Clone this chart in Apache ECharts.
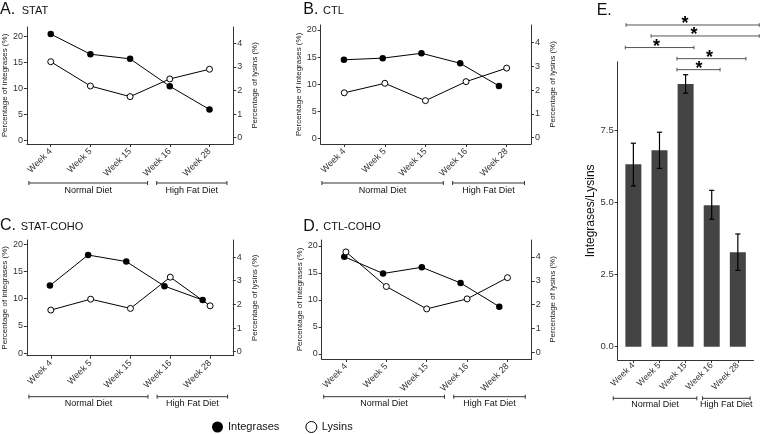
<!DOCTYPE html>
<html><head><meta charset="utf-8">
<script src="https://cdn.jsdelivr.net/npm/echarts@6/dist/echarts.min.js"></script>
<style>html,body{margin:0;padding:0;background:#fff}#c{width:760px;height:434px}</style>
</head><body><div id="c"></div>
<script>
// ---------- data ----------
const weeks = ['Week 4', 'Week 5', 'Week 15', 'Week 16', 'Week 28'];
const statIntegrases = [20.5, 16.6, 15.7, 10.4, 5.9];
const statLysins = [3.22, 2.19, 1.74, 2.49, 2.90];
const ctlIntegrases = [14.5, 14.8, 15.7, 13.85, 9.66];
const ctlLysins = [1.89, 2.29, 1.56, 2.36, 2.93];
const statCohoIntegrases = [12.4, 18.0, 16.8, 12.3, 9.76];
const statCohoLysins = [1.76, 2.22, 1.83, 3.15, 1.94];
const ctlCohoIntegrases = [18.0, 14.9, 16.05, 13.15, 8.76];
const ctlCohoLysins = [4.21, 2.76, 1.82, 2.24, 3.13];
const ratioMean = [6.31, 6.80, 9.09, 4.89, 3.27];
const ratioLow = [5.56, 6.17, 8.77, 4.41, 2.64];
const ratioHigh = [7.04, 7.42, 9.41, 5.41, 3.90];
const integraseTicks = [0, 5, 10, 15, 20];
const lysinTicks = [0, 1, 2, 3, 4];
const ratioTicks = [0, 2.5, 5, 7.5];
const dietGroups = ['Normal Diet', 'High Fat Diet'];
// significance comparisons: [from x, to x, level, star x] (in axis units)
const sigComparisons = [
  [0.72, 5.82, 11.13, 2.98],
  [1.68, 5.82, 10.75, 3.32],
  [0.69, 3.32, 10.35, 1.89],
  [2.67, 5.31, 9.965, 3.92],
  [2.67, 4.32, 9.585, 3.51]
];

// ---------- layout ----------
const FONT = '"Liberation Sans", Arial, sans-serif';
const AX = '#333';
const weekPos = weeks.map((w, i) => i + 1);
const lineSpans = [[0.45, 3.44], [3.67, 5.44]];
const barSpans = [[0.23, 3.43], [3.65, 5.47]];
const linePanels = [
  {letter: 'A.', name: 'STAT', integ: statIntegrases, lys: statLysins,
   grid: [23.3, 27, 210, 117], yL: [-0.77, 21.86], yR: [-0.267, 4.69], xO: [0.4, 5.6], xF: [0.4, 5.6],
   tx: 0, sx: 21.7, base: 14, bracketY: 183},
  {letter: 'B.', name: 'CTL', integ: ctlIntegrases, lys: ctlLysins,
   grid: [320.7, 25, 210.3, 119], yL: [-1.05, 20.92], yR: [-0.265, 4.745], xO: [0.42, 5.6], xF: [0.4, 5.827],
   tx: 303.3, sx: 323, base: 14, bracketY: 183},
  {letter: 'C.', name: 'STAT-COHO', integ: statCohoIntegrases, lys: statCohoLysins,
   grid: [23.3, 240, 209.5, 115.7], yL: [-0.44, 20.75], yR: [-0.168, 4.72], xO: [0.4, 5.57], xF: [0.397, 5.79],
   tx: 0, sx: 20.7, base: 230, bracketY: 396.7},
  {letter: 'D.', name: 'CTL-COHO', integ: ctlCohoIntegrases, lys: ctlCohoLysins,
   grid: [321.7, 240, 210, 119], yL: [-0.93, 21.1], yR: [-0.28, 4.71], xO: [0.4, 5.6], xF: [0.417, 5.836],
   tx: 303.3, sx: 323.3, base: 230.5, bracketY: 396.7}
];

const grids = [], xAxes = [], yAxes = [], series = [], graphics = [];

function addTitle(letter, name, tx, sx, base) {
  graphics.push({type: 'text', left: tx, top: base - 12.4, style: {text: letter, fontSize: 16, fontFamily: FONT, fill: '#111'}});
  if (name) graphics.push({type: 'text', left: sx, top: base - 9, style: {text: name, fontSize: 11, fontFamily: FONT, fill: '#111'}});
}

function bracketSeries(xi, yi, spans, lineY, textDy) {
  return {
    type: 'custom', xAxisIndex: xi, yAxisIndex: yi, clip: false, silent: true, z: 5,
    data: dietGroups.map((g, i) => [spans[i][0], spans[i][1], i]),
    encode: {x: [0, 1]},
    renderItem: (params, api) => {
      const x1 = api.coord([api.value(0), 0])[0];
      const x2 = api.coord([api.value(1), 0])[0];
      const st = {stroke: '#333', lineWidth: 1};
      return {type: 'group', children: [
        {type: 'line', shape: {x1: x1, y1: lineY, x2: x2, y2: lineY}, style: st},
        {type: 'line', shape: {x1: x1, y1: lineY - 2, x2: x1, y2: lineY + 2}, style: st},
        {type: 'line', shape: {x1: x2, y1: lineY - 2, x2: x2, y2: lineY + 2}, style: st},
        {type: 'text', style: {text: dietGroups[api.value(2)], x: (x1 + x2) / 2, y: lineY + textDy,
          textAlign: 'center', textVerticalAlign: 'middle', fontSize: 9, fontFamily: FONT, fill: '#111'}}
      ]};
    }
  };
}

linePanels.forEach((p, k) => {
  grids.push({left: p.grid[0], top: p.grid[1], width: p.grid[2], height: p.grid[3], containLabel: false});
  const xo = xAxes.length;
  xAxes.push({type: 'value', gridIndex: k, min: p.xO[0], max: p.xO[1],
    axisLine: {show: true, onZero: false, lineStyle: {color: AX, width: 1}},
    axisTick: {show: true, length: 3, customValues: weekPos, lineStyle: {color: AX}},
    axisLabel: {customValues: weekPos, rotate: 45, fontSize: 9, margin: 6, color: '#333', fontFamily: FONT,
      formatter: v => weeks[Math.round(v) - 1]},
    splitLine: {show: false}});
  xAxes.push({type: 'value', gridIndex: k, min: p.xF[0], max: p.xF[1], show: false});
  const yl = yAxes.length;
  yAxes.push({type: 'value', gridIndex: k, position: 'left', min: p.yL[0], max: p.yL[1],
    name: 'Percentage of integrases (%)', nameLocation: 'middle', nameGap: 14, nameRotate: 90,
    nameTextStyle: {fontSize: 8, color: '#222', fontFamily: FONT},
    axisLine: {show: true, onZero: false, lineStyle: {color: AX, width: 1}},
    axisTick: {show: true, length: 3, customValues: integraseTicks, lineStyle: {color: AX}},
    axisLabel: {customValues: integraseTicks, fontSize: 9, margin: 4, color: '#333', fontFamily: FONT},
    splitLine: {show: false}});
  yAxes.push({type: 'value', gridIndex: k, position: 'right', min: p.yR[0], max: p.yR[1],
    name: 'Percentage of lysins (%)', nameLocation: 'middle', nameGap: 17.5, nameRotate: 90,
    nameTextStyle: {fontSize: 8, color: '#222', fontFamily: FONT},
    axisLine: {show: true, onZero: false, lineStyle: {color: AX, width: 1}},
    axisTick: {show: true, length: 3, customValues: lysinTicks, lineStyle: {color: AX}},
    axisLabel: {customValues: lysinTicks, fontSize: 9, margin: 4, color: '#333', fontFamily: FONT},
    splitLine: {show: false}});
  series.push({type: 'line', name: 'Integrases', xAxisIndex: xo + 1, yAxisIndex: yl,
    data: p.integ.map((v, i) => [i + 1, v]), symbol: 'circle', symbolSize: 6.5, showAllSymbol: true,
    lineStyle: {color: '#000', width: 1}, itemStyle: {color: '#000'}, z: 3});
  series.push({type: 'line', name: 'Lysins', xAxisIndex: xo, yAxisIndex: yl + 1,
    data: p.lys.map((v, i) => [i + 1, v]), symbol: 'circle', symbolSize: 6, showAllSymbol: true,
    lineStyle: {color: '#000', width: 1}, itemStyle: {color: '#fff', borderColor: '#000', borderWidth: 1}, z: 4});
  series.push(bracketSeries(xo, yl, lineSpans, p.bracketY, 7.3));
  addTitle(p.letter, p.name, p.tx, p.sx, p.base);
});

// ---------- panel E ----------
const kE = grids.length;
grids.push({left: 617.7, top: 61.7, width: 135.8, height: 298.3, containLabel: false});
const xE = xAxes.length;
xAxes.push({type: 'value', gridIndex: kE, min: 0.4, max: 5.6,
  axisLine: {show: true, onZero: false, lineStyle: {color: AX, width: 1}},
  axisTick: {show: true, length: 3, customValues: weekPos, lineStyle: {color: AX}},
  axisLabel: {customValues: weekPos, rotate: 45, fontSize: 8.8, margin: 4, color: '#333', fontFamily: FONT,
    formatter: v => weeks[Math.round(v) - 1]},
  splitLine: {show: false}});
const yE = yAxes.length;
yAxes.push({type: 'value', gridIndex: kE, position: 'left', min: -0.46, max: 9.86,
  name: 'Integrases/Lysins', nameLocation: 'middle', nameGap: 21, nameRotate: 90,
  nameTextStyle: {fontSize: 12, color: '#111', fontFamily: FONT},
  axisLine: {show: true, onZero: false, lineStyle: {color: AX, width: 1}},
  axisTick: {show: true, length: 3, customValues: ratioTicks, lineStyle: {color: AX}},
  axisLabel: {customValues: ratioTicks, fontSize: 9.5, margin: 4, color: '#333', fontFamily: FONT,
    formatter: v => v.toFixed(1)},
  splitLine: {show: false}});
series.push({type: 'bar', name: 'ratio', xAxisIndex: xE, yAxisIndex: yE, barWidth: 16,
  data: ratioMean.map((v, i) => [i + 1, v]), itemStyle: {color: '#444444'}, z: 2});
series.push({type: 'custom', xAxisIndex: xE, yAxisIndex: yE, clip: false, silent: true, z: 4,
  data: ratioMean.map((v, i) => [i + 1, ratioLow[i], ratioHigh[i]]),
  encode: {x: 0, y: [1, 2]},
  renderItem: (params, api) => {
    const lo = api.coord([api.value(0), api.value(1)]);
    const hi = api.coord([api.value(0), api.value(2)]);
    const w = 2.6, st = {stroke: '#000', lineWidth: 1.2};
    return {type: 'group', children: [
      {type: 'line', shape: {x1: lo[0], y1: lo[1], x2: hi[0], y2: hi[1]}, style: st},
      {type: 'line', shape: {x1: lo[0] - w, y1: lo[1], x2: lo[0] + w, y2: lo[1]}, style: st},
      {type: 'line', shape: {x1: hi[0] - w, y1: hi[1], x2: hi[0] + w, y2: hi[1]}, style: st}
    ]};
  }});
series.push({type: 'custom', xAxisIndex: xE, yAxisIndex: yE, clip: false, silent: true, z: 4,
  data: sigComparisons,
  encode: {x: [0, 1], y: 2},
  renderItem: (params, api) => {
    const a = api.coord([api.value(0), api.value(2)]);
    const b = api.coord([api.value(1), api.value(2)]);
    const s = api.coord([api.value(3), api.value(2)]);
    const st = {stroke: '#555', lineWidth: 1};
    return {type: 'group', children: [
      {type: 'line', shape: {x1: a[0], y1: a[1], x2: b[0], y2: b[1]}, style: st},
      {type: 'line', shape: {x1: a[0], y1: a[1] - 1.8, x2: a[0], y2: a[1] + 1.8}, style: st},
      {type: 'line', shape: {x1: b[0], y1: b[1] - 1.8, x2: b[0], y2: b[1] + 1.8}, style: st},
      {type: 'text', style: {text: '*', x: s[0], y: s[1] - 1, textAlign: 'center', textVerticalAlign: 'middle',
        fontSize: 18, fontWeight: 'bold', fontFamily: FONT, fill: '#000'}}
    ]};
  }});
series.push(bracketSeries(xE, yE, barSpans, 398.3, 6));
addTitle('E.', '', 596.7, 0, 15);

const chart = echarts.init(document.getElementById('c'));
chart.setOption({
  animation: false,
  backgroundColor: '#fff',
  grid: grids, xAxis: xAxes, yAxis: yAxes, series: series,
  graphic: graphics,
  legend: {
    left: 212, top: 421, padding: 0, itemWidth: 11, itemHeight: 11, itemGap: 26, icon: 'circle',
    selectedMode: false,
    textStyle: {fontSize: 11, color: '#111', fontFamily: FONT},
    data: [
      {name: 'Integrases', itemStyle: {color: '#000', borderWidth: 0}},
      {name: 'Lysins', itemStyle: {color: '#fff', borderColor: '#000', borderWidth: 1}}
    ]
  }
});
</script>
</body></html>
